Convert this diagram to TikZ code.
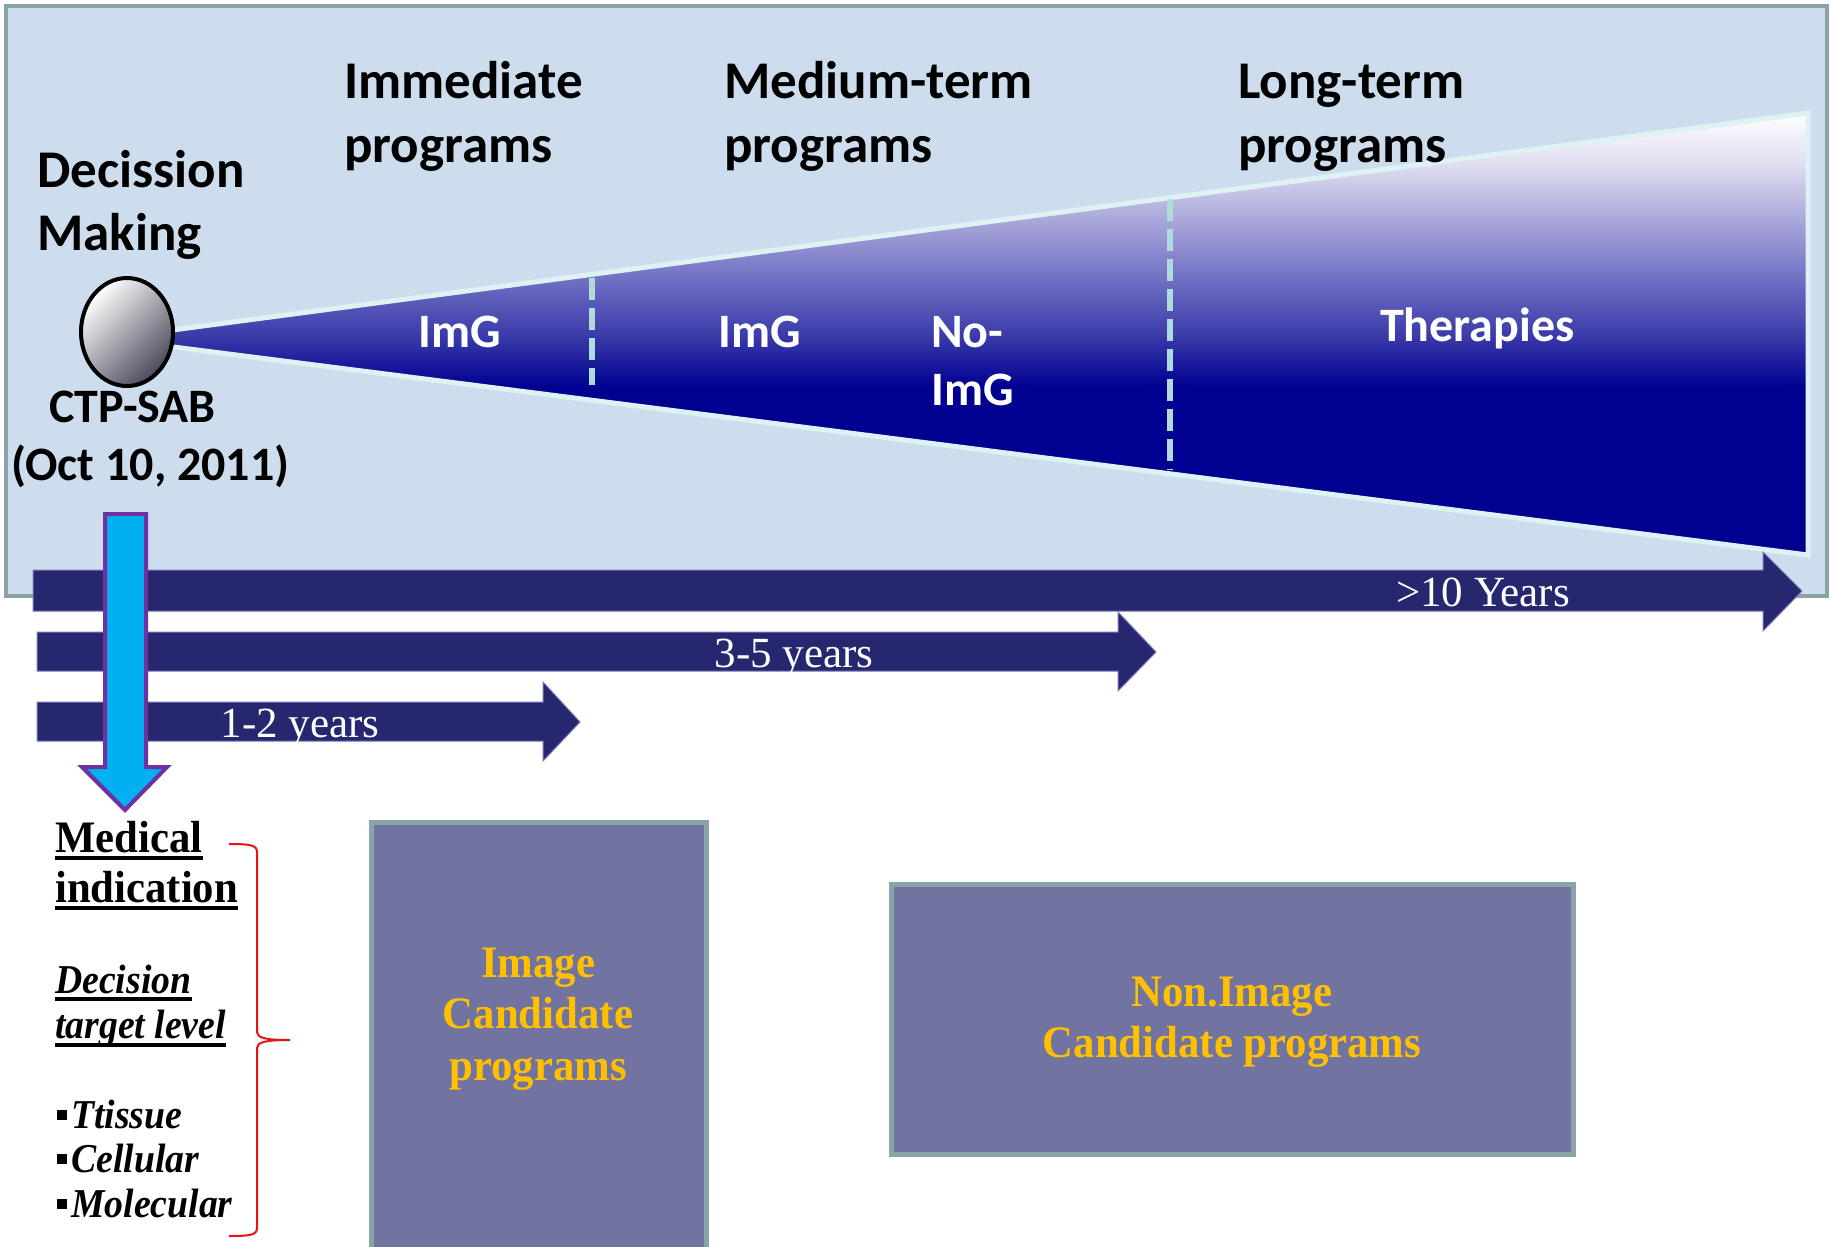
\documentclass[tikz,border=0pt]{standalone}
\usepackage{fontspec}
\setmainfont{Liberation Serif}
\newfontfamily\carl{Carlito}
\newfontfamily\tnr{Liberation Serif}[FakeStretch=0.95]
\newfontfamily\tnrn{Liberation Serif}
\newfontfamily\tnri{Liberation Serif}[FakeStretch=0.92]
\usetikzlibrary{shapes.geometric}
\definecolor{panelfill}{RGB}{205,221,238}
\definecolor{panelborder}{RGB}{137,163,166}
\definecolor{fedge}{RGB}{222,242,244}
\definecolor{fdash}{RGB}{175,219,220}
\definecolor{fnavy}{RGB}{0,0,145}
\definecolor{fmid}{RGB}{60,60,170}
\definecolor{fmidb}{RGB}{110,110,195}
\definecolor{flav}{RGB}{170,168,218}
\definecolor{fpale}{RGB}{222,220,240}
\definecolor{arrownavy}{RGB}{39,39,112}
\definecolor{arrowedge}{RGB}{120,120,185}
\definecolor{cyanarrow}{RGB}{0,176,240}
\definecolor{purplearrow}{RGB}{112,48,160}
\definecolor{boxfill}{RGB}{113,115,160}
\definecolor{boxborder}{RGB}{137,163,166}
\definecolor{gold}{RGB}{255,192,0}
\definecolor{bracered}{RGB}{230,20,20}
\definecolor{balldark}{RGB}{75,72,90}
\definecolor{ballmid}{RGB}{200,200,207}
\pgfdeclareverticalshading{funnelshade}{100bp}{color(0bp)=(fnavy); color(44bp)=(fnavy); color(50bp)=(fmid); color(56bp)=(fmidb); color(63bp)=(flav); color(69bp)=(fpale); color(75bp)=(white); color(100bp)=(white)}
\tikzset{
  title/.style={font=\carl\bfseries\fontsize{53}{63}\selectfont, anchor=base west, inner sep=0},
  midtxt/.style={font=\carl\bfseries\fontsize{48}{58}\selectfont, anchor=base west, inner sep=0},
  wlab/.style={midtxt, text=white},
  yrs/.style={font=\tnrn\fontsize{43}{50}\selectfont, text=white, anchor=base, inner sep=0},
  medl/.style={font=\tnr\bfseries\fontsize{45}{50}\selectfont, anchor=base west, inner sep=0},
  lvl/.style={font=\tnri\bfseries\itshape\fontsize{41}{44}\selectfont, anchor=base west, inner sep=0},
  boxtxt/.style={font=\tnr\bfseries\fontsize{45}{51.5}\selectfont, text=gold, align=center, inner sep=0},
  progbox/.style={draw=boxborder, fill=boxfill, line width=5},
  yarrow/.style={fill=arrownavy, draw=arrowedge, line width=1, line join=miter},
  ulline/.style={line width=3.5},
}
\begin{document}
\begin{tikzpicture}[x=1pt,y=-1pt]
\useasboundingbox (0,0) rectangle (1831,1247);
\clip (0,0) rectangle (1831,1247);
\fill[white] (0,0) rectangle (1831,1247);
% panel
\draw[fill=panelfill, draw=panelborder, line width=4] (6,6) rectangle (1827,596);
% funnel
\shadedraw[shading=funnelshade, draw=fedge, line width=5, line join=miter]
  (150,333) -- (1808,113) -- (1808,555) -- (150,344) -- cycle;
\draw[fdash, line width=6, dash pattern=on 22pt off 8pt] (592,278) -- (592,385);
\draw[fdash, line width=6, dash pattern=on 22pt off 8pt] (1170,199) -- (1170,470);
% decision ball
\node (dm) [ellipse, draw=black, line width=4, minimum width=92, minimum height=108, inner sep=0,
  top color=white, middle color=ballmid, bottom color=balldark, shading angle=45] at (127,332) {};
% titles
\node (t1a) [title] at (37,187) {Decission};
\node (t1b) [title] at (37,250) {Making};
\node (t2a) [title] at (344,98) {Immediate};
\node (t2b) [title] at (344,162) {programs};
\node (t3a) [title] at (724,98) {Medium-term};
\node (t3b) [title] at (724,162) {programs};
\node (t4a) [title] at (1238,98) {Long-term};
\node (t4b) [title] at (1238,162) {programs};
\node (ctp) [midtxt] at (49,422) {CTP-SAB};
\node (date) [midtxt] at (11,480) {(Oct 10, 2011)};
% funnel labels
\node (img1) [wlab] at (418,347) {ImG};
\node (img2) [wlab] at (718,347) {ImG};
\node (noimga) [wlab] at (931,347) {No-};
\node (noimgb) [wlab] at (931,405) {ImG};
\node (ther) [wlab] at (1380,341) {Therapies};
% horizontal arrows
\path[yarrow] (33,570) -- (1763,570) -- (1763,552) -- (1802,591) -- (1763,631) -- (1763,611) -- (33,611) -- cycle;
\path[yarrow] (37,632) -- (1118,632) -- (1118,612) -- (1156,652) -- (1118,691) -- (1118,671) -- (37,671) -- cycle;
\path[yarrow] (37,702) -- (543,702) -- (543,682) -- (580,722) -- (543,761) -- (543,741) -- (37,741) -- cycle;
\node (y10) [yrs] at (1483,606) {>10 Years};
\node (y35) [yrs] at (794,667) {3-5 years};
\node (y12) [yrs] at (300,737) {1-2 years};
% vertical arrow
\path[fill=cyanarrow, draw=purplearrow, line width=4, line join=miter]
  (105,514) -- (146,514) -- (146,767) -- (167,767) -- (125,810) -- (82,767) -- (105,767) -- cycle;
% left text block
\node (med) [medl] at (55,852) {Medical};
\node (ind) [medl] at (55,902) {indication};
\draw[ulline] ([yshift=-6pt]med.base west) -- ([yshift=-6pt]med.base east);
\draw[ulline] ([yshift=-6pt]ind.base west) -- ([yshift=-6pt]ind.base east);
\node (dec) [lvl] at (55,993) {Decision};
\node (tgt) [lvl] at (55,1038) {target level};
\draw[ulline] ([yshift=-6pt]dec.base west) -- ([yshift=-6pt]dec.base east);
\draw[ulline] ([yshift=-7pt]tgt.base west) -- ([yshift=-7pt]tgt.base east);
\node (l1) [lvl] at (57,1128) {\rule[8pt]{10pt}{10pt}\hspace{4pt}Ttissue};
\node (l2) [lvl] at (57,1172) {\rule[8pt]{10pt}{10pt}\hspace{4pt}Cellular};
\node (l3) [lvl] at (57,1217) {\rule[8pt]{10pt}{10pt}\hspace{4pt}Molecular};
% brace
\draw[bracered, line width=2]
  (229,844) .. controls (250,844) and (257,845) .. (257,852) -- (257,1032)
  .. controls (257,1038) and (266,1040) .. (290,1040)
  .. controls (266,1040) and (257,1042) .. (257,1048) -- (257,1228)
  .. controls (257,1235) and (250,1236) .. (229,1236);
% program boxes
\draw[progbox] (371,822) rectangle (706,1265);
\node (imgtxt) [boxtxt] at (538,1019) {Image\\Candidate\\programs};
\draw[progbox] (891,884) rectangle (1573,1154);
\node (nonimgtxt) [boxtxt] at (1232,1022) {Non.Image\\Candidate programs};
\end{tikzpicture}
\end{document}
